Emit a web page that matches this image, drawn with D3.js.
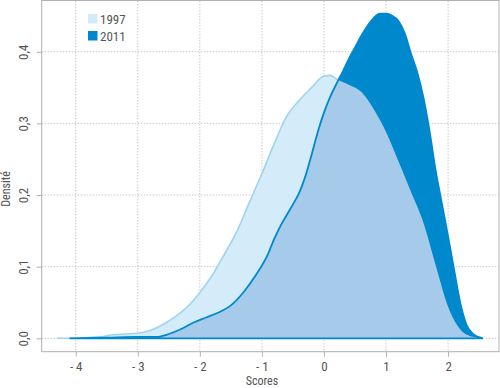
<!DOCTYPE html>
<html>
<head>
<meta charset="utf-8">
<script src="https://cdn.jsdelivr.net/npm/d3@7"></script>
<style>
  body { margin: 0; background: #fff; }
  text { font-family: "Liberation Sans Narrow", "Roboto Condensed", "Roboto", sans-serif; fill: #555; }
</style>
</head>
<body>
<div id="chart"></div>
<script>
// Chart setup
const width = 500;
const height = 388;

// Data: density of scores
const scores1997 = [-4.3, -3.9, -3.6, -3.4, -3.2, -3.0, -2.8, -2.6, -2.4, -2.2, -2.0, -1.8, -1.6, -1.4, -1.2, -1.0,
  -0.8, -0.6, -0.4, -0.2, 0.0, 0.1, 0.2, 0.4, 0.6, 0.8, 1.0, 1.2, 1.4, 1.6, 1.8, 2.0, 2.2, 2.4, 2.55];
const density1997 = [0, 0.0005, 0.002, 0.005, 0.006, 0.007, 0.011, 0.019, 0.030, 0.044, 0.064, 0.088, 0.118, 0.150, 0.190, 0.230,
  0.272, 0.310, 0.332, 0.350, 0.366, 0.367, 0.362, 0.354, 0.344, 0.320, 0.288, 0.247, 0.205, 0.162, 0.102, 0.044, 0.012, 0.002, 0];

const scores2011 = [-4.1, -3.5, -3.0, -2.7, -2.5, -2.3, -2.1, -1.9, -1.7, -1.5, -1.3, -1.1, -0.9, -0.8, -0.7, -0.6, -0.5, -0.4,
  -0.3, -0.2, -0.1, 0.0, 0.1, 0.2, 0.3, 0.4, 0.5, 0.6, 0.7, 0.8, 0.9, 1.0, 1.1, 1.2, 1.3, 1.4, 1.5, 1.6, 1.7, 1.8, 1.9,
  2.0, 2.1, 2.2, 2.3, 2.4, 2.56];
const density2011 = [0, 0.001, 0.002, 0.002, 0.006, 0.013, 0.022, 0.029, 0.036, 0.046, 0.064, 0.088, 0.118, 0.139, 0.157, 0.172, 0.187, 0.203,
  0.226, 0.256, 0.288, 0.315, 0.337, 0.355, 0.372, 0.390, 0.406, 0.422, 0.436, 0.447, 0.453, 0.453, 0.450, 0.443, 0.426, 0.398, 0.372, 0.337, 0.290, 0.234, 0.188,
  0.142, 0.094, 0.048, 0.018, 0.006, 0];

const xTicks = [-4, -3, -2, -1, 0, 1, 2];
const yTicks = [0, 0.1, 0.2, 0.3, 0.4];
const years = ["1997", "2011"];

const colors = {
  light: "#d4ecf9",
  lightLine: "#9dd4f0",
  dark: "#0088cd",
  overlap: "#a6cbea",
  grid: "#c8c8c8",
  box: "#b0b0b0"
};

const svg = d3.select('#chart')
  .append('svg')
  .attr('width', width)
  .attr('height', height);

// Scales
const x = d3.scaleLinear().domain([-4.548, 2.82]).range([41.7, 499]);
const y = d3.scaleLinear().domain([-0.0187, 0.4708]).range([351.7, 1]);

const pts1997 = scores1997.map((s, i) => [s, density1997[i]]);
const pts2011 = scores2011.map((s, i) => [s, density2011[i]]);

// Grid
svg.append('g')
  .selectAll('line')
  .data(xTicks)
  .enter().append('line')
  .attr('x1', d => x(d)).attr('x2', d => x(d))
  .attr('y1', y.range()[1]).attr('y2', y.range()[0])
  .attr('stroke', colors.grid)
  .attr('stroke-dasharray', '1.5,1.5');

svg.append('g')
  .selectAll('line')
  .data(yTicks)
  .enter().append('line')
  .attr('x1', x.range()[0]).attr('x2', x.range()[1])
  .attr('y1', d => y(d)).attr('y2', d => y(d))
  .attr('stroke', colors.grid)
  .attr('stroke-dasharray', '1.5,1.5');

// Density polygons
const area = d3.area()
  .x(d => x(d[0]))
  .y0(y(0))
  .y1(d => y(d[1]))
  .curve(d3.curveMonotoneX);

svg.append('clipPath')
  .attr('id', 'clip1997')
  .append('path')
  .attr('d', area(pts1997));

svg.append('path')
  .attr('d', area(pts1997) + 'Z')
  .attr('fill', colors.light)
  .attr('stroke', colors.lightLine)
  .attr('stroke-width', 1.6);

svg.append('path')
  .attr('d', area(pts2011))
  .attr('fill', colors.dark);

svg.append('path')
  .attr('d', area(pts2011))
  .attr('fill', colors.overlap)
  .attr('clip-path', 'url(#clip1997)');

svg.append('path')
  .attr('d', area(pts2011) + 'Z')
  .attr('fill', 'none')
  .attr('stroke', colors.dark)
  .attr('stroke-width', 1.8);

// Box
svg.append('rect')
  .attr('x', x.range()[0])
  .attr('y', 0.5)
  .attr('width', x.range()[1] - x.range()[0])
  .attr('height', y.range()[0] - 0.5)
  .attr('fill', 'none')
  .attr('stroke', colors.box);

// Axes
const xAxis = svg.append('g')
  .attr('transform', `translate(0,${y.range()[0]})`)
  .call(d3.axisBottom(x)
    .tickValues(xTicks)
    .tickSize(5)
    .tickPadding(5)
    .tickFormat(d => d < 0 ? '- ' + Math.abs(d) : d));

const yAxis = svg.append('g')
  .attr('transform', `translate(${x.range()[0]},0)`)
  .call(d3.axisLeft(y)
    .tickValues(yTicks)
    .tickSize(5)
    .tickFormat(d => d3.format('.1f')(d).replace('.', ',')));

[xAxis, yAxis].forEach(g => {
  g.select('.domain').remove();
  g.selectAll('.tick line').attr('stroke', colors.box);
  g.selectAll('.tick text')
    .attr('fill', '#555')
    .style('font-size', '13px');
});

yAxis.selectAll('.tick text')
  .attr('text-anchor', 'middle')
  .attr('x', 0)
  .attr('dy', 0)
  .attr('transform', 'translate(-14,0) rotate(-90)')
  .attr('y', 0);

// Axis titles
svg.append('text')
  .attr('x', 262)
  .attr('y', 385)
  .attr('text-anchor', 'middle')
  .style('font-size', '12px')
  .text('Scores');

svg.append('text')
  .attr('transform', 'translate(10,189) rotate(-90)')
  .attr('text-anchor', 'middle')
  .style('font-size', '12px')
  .text('Densité');

// Legend
const legend = svg.append('g')
  .selectAll('g')
  .data(years)
  .enter().append('g')
  .attr('transform', (d, i) => `translate(88,${14 + i * 17})`);

legend.append('rect')
  .attr('width', 9.5)
  .attr('height', 9.5)
  .attr('fill', (d, i) => i === 0 ? colors.light : colors.dark);

legend.append('text')
  .attr('x', 12)
  .attr('y', 9.5)
  .style('font-size', '13px')
  .text(d => d);
</script>
</body>
</html>
